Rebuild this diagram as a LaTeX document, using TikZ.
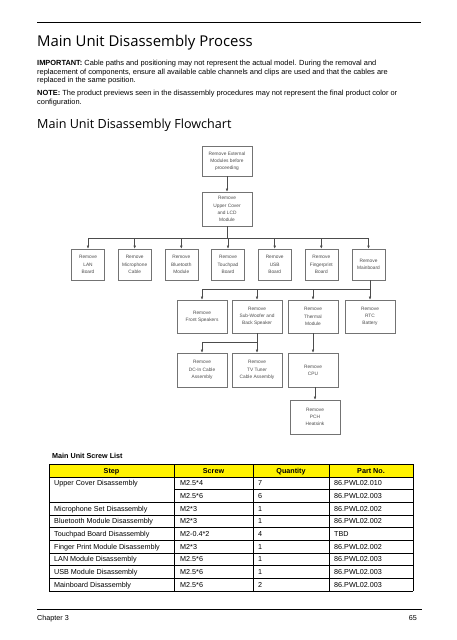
\documentclass[tikz,border=0pt]{standalone}
\usepackage{fontspec}
\setmainfont{Liberation Sans}
\newfontfamily\headfont{Open Sans}
\usetikzlibrary{arrows.meta}
\begin{document}
\begin{tikzpicture}[x=1pt,y=-1pt,
  fbox/.style={draw=black!55, line width=0.6pt, minimum width=50pt, minimum height=34pt, inner sep=0pt, align=center, font=\fontsize{4.8}{7.2}\selectfont, text=black!70},
  sbox/.style={fbox, minimum width=33pt, minimum height=31pt},
  conn/.style={draw=black!70, line width=0.5pt},
  arr/.style={conn, -{Latex[length=3pt,width=2.6pt]}},
  body/.style={anchor=base west, inner sep=0pt, font=\fontsize{7.42}{8.7}\selectfont},
  cell/.style={anchor=base west, inner sep=0pt, font=\fontsize{7.2}{8}\selectfont},
  hcell/.style={anchor=base, inner sep=0pt, font=\bfseries\fontsize{7.2}{8}\selectfont},
  rule/.style={line width=0.8pt},
  tline/.style={line width=0.7pt}
]
\useasboundingbox (0,0) rectangle (457,640);
\fill[white] (0,0) rectangle (457,640);

% header
\draw[rule] (37,22) -- (421,22);
\node[anchor=base west, inner sep=0pt, font=\headfont\fontsize{14.9}{18}\selectfont] (title) at (37,46.7) {Main Unit Disassembly Process};
\node[body] (l1) at (37,65.2) {\textbf{IMPORTANT:} Cable paths and positioning may not represent the actual model. During the removal and};
\node[body] (l2) at (37,74) {replacement of components, ensure all available cable channels and clips are used and that the cables are};
\node[body] (l3) at (37,82.7) {replaced in the same position.};
\node[body] (l4) at (37,95.5) {\textbf{NOTE:} The product previews seen in the disassembly procedures may not represent the final product color or};
\node[body] (l5) at (37,104) {configuration.};
\node[anchor=base west, inner sep=0pt, font=\headfont\fontsize{12.6}{14}\selectfont] (ftitle) at (37,128) {Main Unit Disassembly Flowchart};

% flowchart
\node[fbox, minimum height=30pt] (ext) at (227,161) {Remove External\\Modules before\\proceeding};
\node[fbox] (upper) at (227,209) {Remove\\Upper Cover\\and LCD\\Module};

\node[sbox] (lan) at (88,264.5) {Remove\\LAN\\Board};
\node[sbox] (mic) at (134.7,264.5) {Remove\\Microphone\\Cable};
\node[sbox] (bt)  at (181.3,264.5) {Remove\\Bluetooth\\Module};
\node[sbox] (tp)  at (228,264.5) {Remove\\Touchpad\\Board};
\node[sbox] (usb) at (274.7,264.5) {Remove\\USB\\Board};
\node[sbox] (fp)  at (321.3,264.5) {Remove\\Fingerprint\\Board};
\node[sbox] (mb)  at (368.5,264.5) {Remove\\Mainboard};

\node[fbox, minimum height=33pt] (fs)  at (202,316.5) {Remove\\Front Speakers};
\node[fbox, minimum height=33pt] (sw)  at (257,316.5) {Remove\\Sub-Woofer and\\Back Speaker};
\node[fbox, minimum height=33pt] (th)  at (313,316.5) {Remove\\Thermal\\Module};
\node[fbox, minimum height=33pt] (rtc) at (370,316.5) {Remove\\RTC\\Battery};

\node[fbox] (dc)  at (202,370) {Remove\\DC-In Cable\\Assembly};
\node[fbox] (tv)  at (257,370) {Remove\\TV Tuner\\Cable Assembly};
\node[fbox] (cpu) at (313,370) {Remove\\CPU};
\node[fbox] (pch) at (315,417) {Remove\\PCH\\Heatsink};

\coordinate (b1) at (227,238);
\coordinate (b2) at (370,289);
\coordinate (b3) at (257,342);

\draw[arr] (ext) -- (upper);
\draw[conn] (upper.south) -- (b1);
\draw[conn] (lan.north |- b1) -- (mb.north |- b1);
\foreach \n in {lan,mic,bt,tp,usb,fp,mb} \draw[arr] (\n.north |- b1) -- (\n.north);

\draw[conn] (rtc.north |- mb.south) -- (b2);
\draw[conn] (fs.north |- b2) -- (b2);
\foreach \n in {fs,sw,th,rtc} \draw[arr] (\n.north |- b2) -- (\n.north);

\draw[conn] (sw.south) -- (b3) -- (dc.north |- b3);
\foreach \n in {dc,tv} \draw[arr] (\n.north |- b3) -- (\n.north);

\draw[arr] (th) -- (cpu);
\draw[arr] (pch.north |- cpu.south) -- (pch.north);

% table
\node[anchor=base west, inner sep=0pt, font=\bfseries\fontsize{7.2}{8}\selectfont] (tcap) at (52,458.5) {Main Unit Screw List};
\fill[yellow] (49,464) rectangle (413,477);
\node[hcell] (h1) at (111.5,473.2) {Step};
\node[hcell] (h2) at (213.5,473.2) {Screw};
\node[hcell] (h3) at (291,473.2) {Quantity};
\node[hcell] (h4) at (371,473.2) {Part No.};

\foreach \yy in {464,477,502.33,515,527.67,540.33,553,565.67,578.33,591}
  \draw[tline] (49,\yy) -- (413,\yy);
\draw[tline] (174,489.67) -- (413,489.67);
\foreach \xx in {49,174,253,329,413}
  \draw[tline] (\xx,464) -- (\xx,591);

\foreach \a/\b/\c/\d [count=\i] in {
  Upper Cover Disassembly/M2.5*4/7/86.PWL02.010,
  /M2.5*6/6/86.PWL02.003,
  Microphone Set Disassembly/M2*3/1/86.PWL02.002,
  Bluetooth Module Disassembly/M2*3/1/86.PWL02.002,
  Touchpad Board Disassembly/M2-0.4*2/4/TBD,
  Finger Print Module Disassembly/M2*3/1/86.PWL02.002,
  LAN Module Disassembly/M2.5*6/1/86.PWL02.003,
  USB Module Disassembly/M2.5*6/1/86.PWL02.003,
  Mainboard Disassembly/M2.5*6/2/86.PWL02.003}
{
  \node[cell] (c\i-a) at (54,{473.2+12.667*\i}) {\a};
  \node[cell] (c\i-b) at (180,{473.2+12.667*\i}) {\b};
  \node[cell] (c\i-c) at (258,{473.2+12.667*\i}) {\c};
  \node[cell] (c\i-d) at (334,{473.2+12.667*\i}) {\d};
}

% footer
\draw[rule] (37,609) -- (422,609);
\node[cell] (chap) at (37,620.5) {Chapter 3};
\node[cell, anchor=base east] (pg) at (417,620.5) {65};
\end{tikzpicture}
\end{document}
